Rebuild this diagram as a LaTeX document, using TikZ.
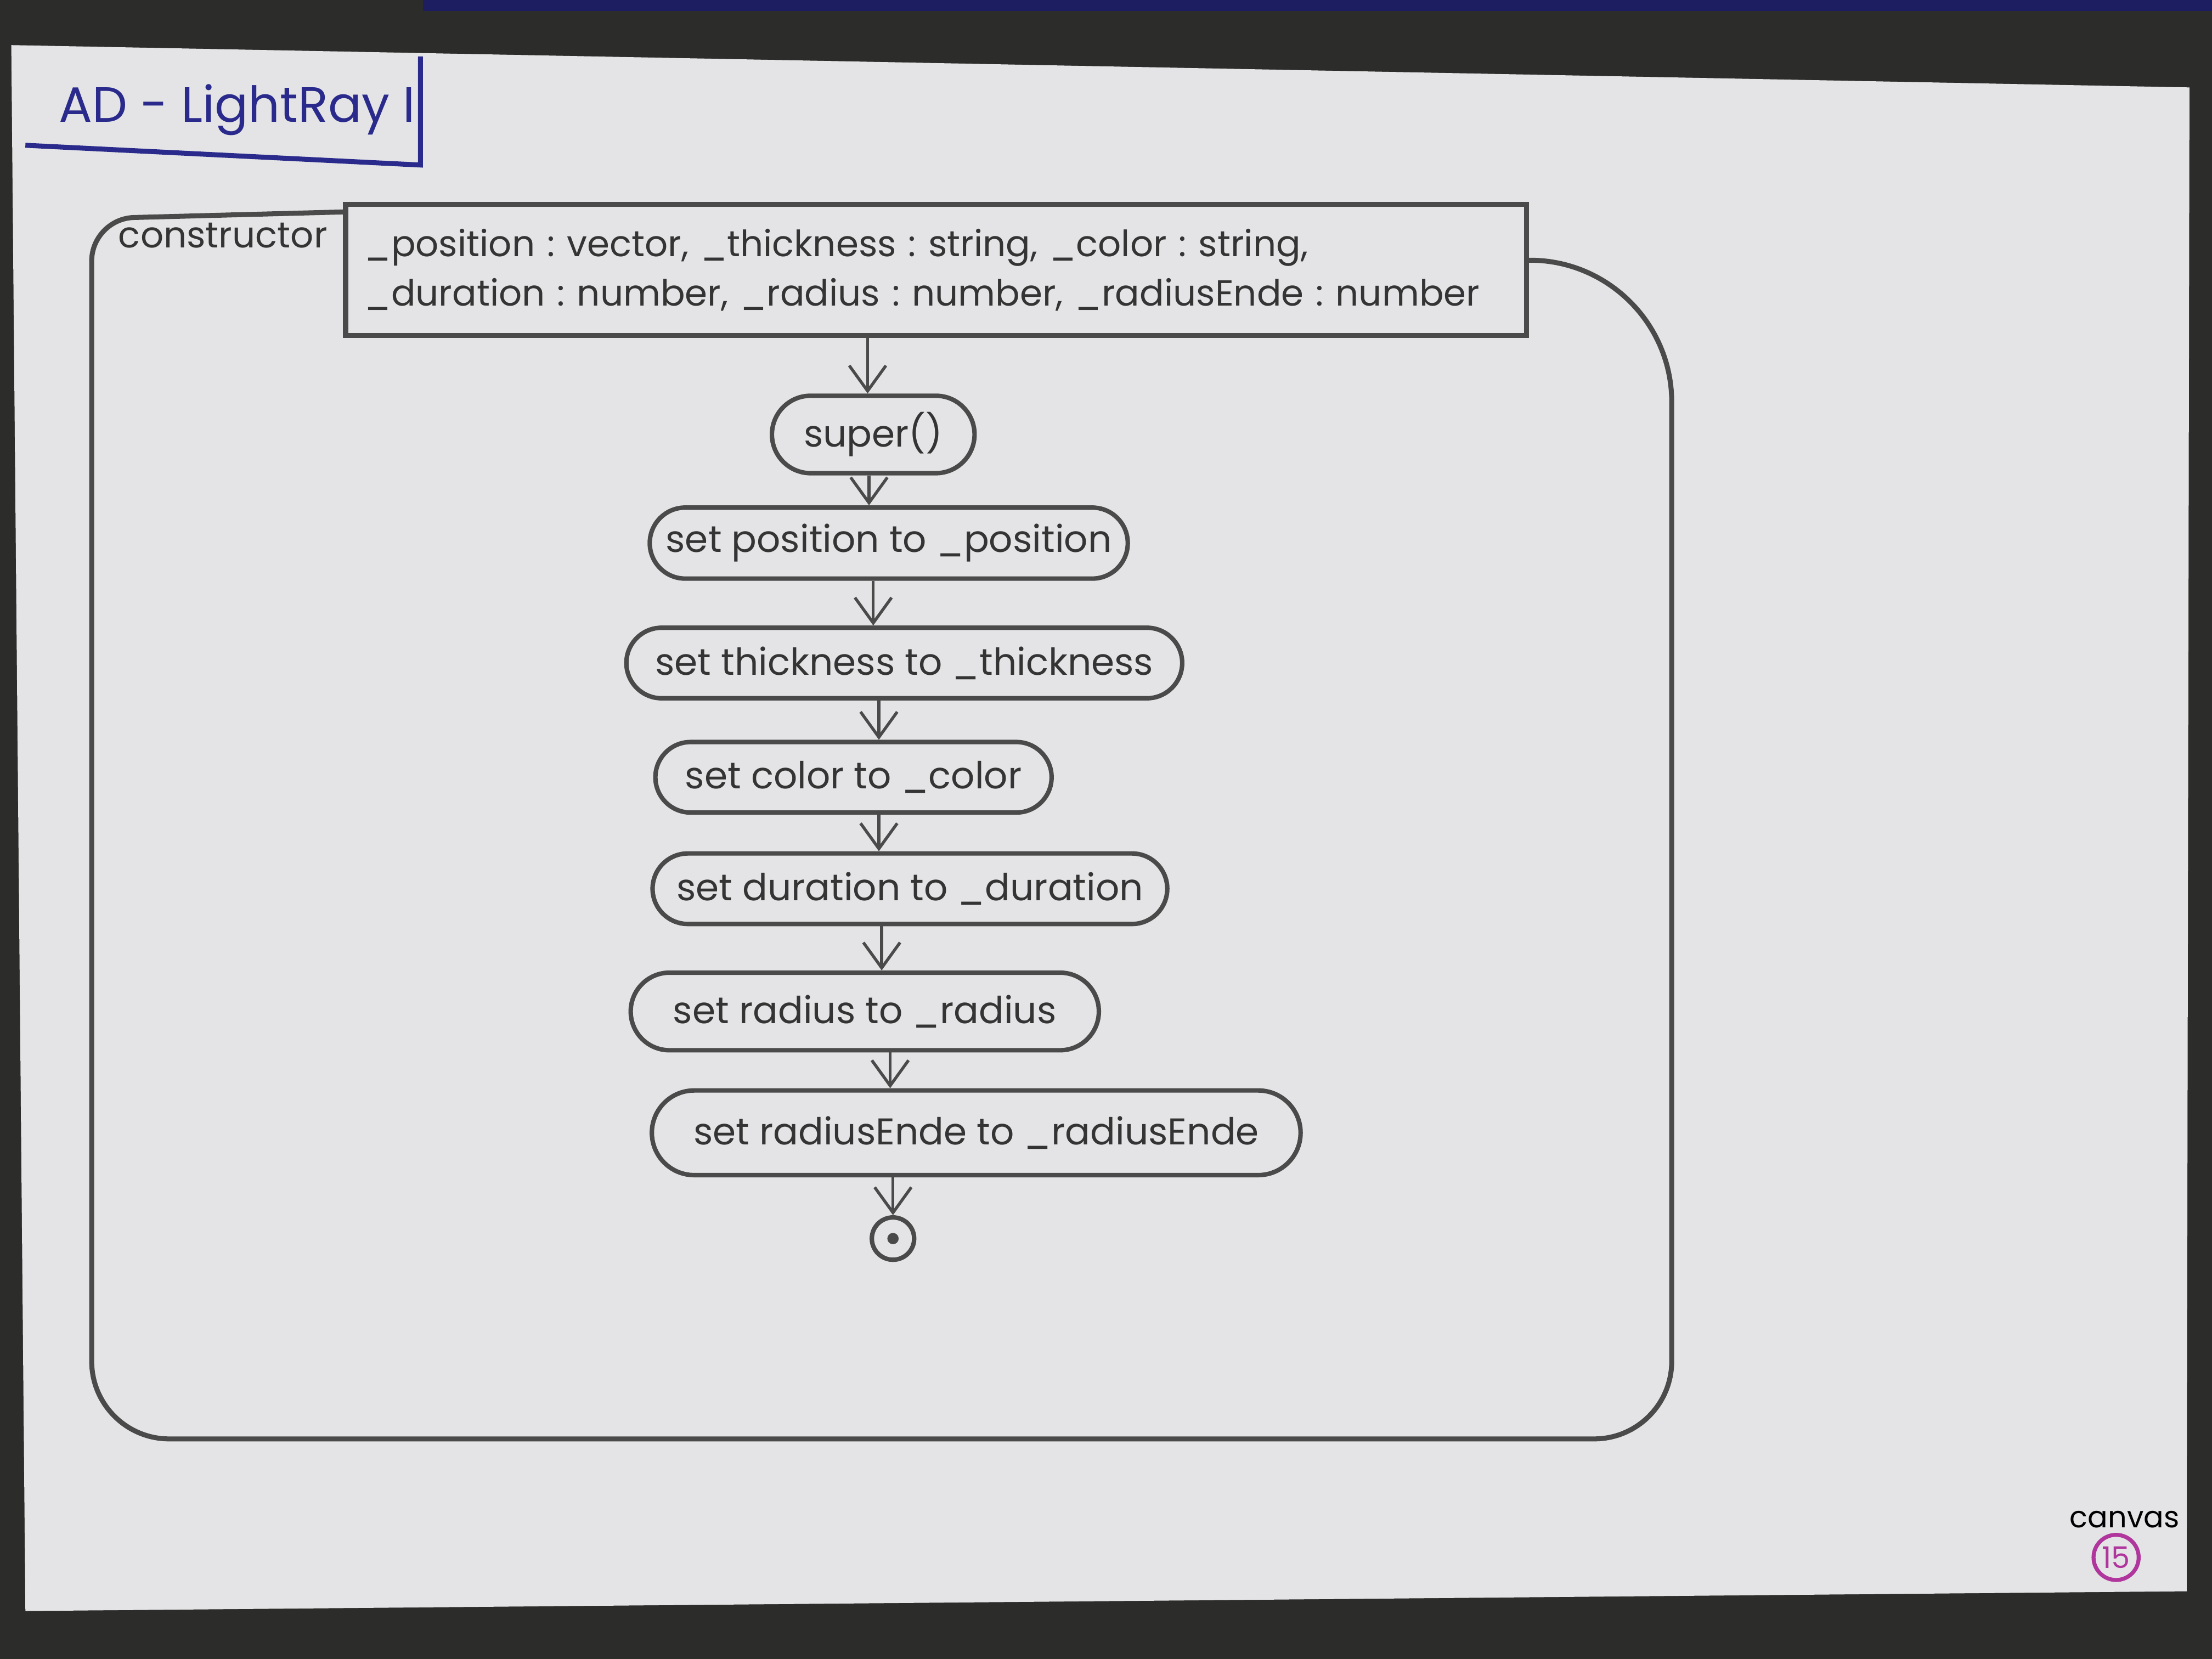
\documentclass[tikz,border=0pt]{standalone}
\usepackage{fontspec}
\setmainfont{Poppins}
\usetikzlibrary{arrows.meta,shapes.misc}
\frenchspacing

\definecolor{pencil}{HTML}{4A4A4A}
\definecolor{paper}{HTML}{E4E4E6}
\definecolor{desk}{HTML}{2C2C2A}
\definecolor{ink}{HTML}{2A2A8C}
\definecolor{marker}{HTML}{B0359C}

\begin{document}
\begin{tikzpicture}[
    action/.style={draw=pencil, line width=0.9pt, rounded rectangle, minimum height=0.5cm, inner xsep=5pt, font=\fontsize{7.5}{9}\selectfont, text=pencil!70!black},
    flow/.style={draw=pencil, line width=0.6pt, -{Straight Barb[length=1.8mm,width=2.6mm]}},
    region/.style={draw=pencil, line width=1pt},
    note/.style={font=\fontsize{7.3}{9}\selectfont, text=pencil!70!black}
]
    % Photo background and sheet
    \fill[desk] (0,0) rectangle (15.68,11.76);
    \fill[ink!70!black] (3,11.76) rectangle (15.68,11.68);
    \fill[paper] (0.08,11.44) -- (15.52,11.14) -- (15.5,0.48) -- (0.18,0.34) -- cycle;

    % Title
    \node[font=\fontsize{10}{12}\selectfont, text=ink] (title) at (1.68,10.98) {AD - LightRay I};
    \draw[ink, line width=1pt] (0.18,10.73) -- (2.98,10.59) -- (2.98,11.36);

    % Constructor region
    \node[draw=pencil, line width=1pt, minimum width=8.37cm, minimum height=0.93cm,
          text width=8.1cm, align=left, note] (params) at (6.635,9.845)
          {\hyphenpenalty=10000 \_position : vector, \_thickness : string, \_color : string,\\[1pt]
           \_duration : number, \_radius : number, \_radiusEnde : number};
    \node[note] (ctor) at (1.58,10.09) {constructor};
    \draw[region] ([yshift=-2pt]params.north west) [rounded corners=3mm] -- (0.65,10.21)
        [rounded corners=5.5mm] -- (0.65,1.56) -- (11.85,1.56)
        [rounded corners=1cm] -- (11.85,9.91) -- ([yshift=2pt]params.east);

    % Actions
    \node[action] (super) at (6.19,8.68) {super()};
    \node[action, minimum width=3.74cm] (pos) at (6.30,7.91) {set position to \_position};
    \node[action, minimum width=3.88cm] (thick) at (6.41,7.06) {set thickness to \_thickness};
    \node[action, minimum width=3.16cm] (color) at (6.05,6.25) {set color to \_color};
    \node[action, minimum width=4.0cm] (dur) at (6.45,5.46) {set duration to \_duration};
    \node[action, minimum width=3.67cm, minimum height=0.55cm] (rad) at (6.13,4.59) {set radius to \_radius};
    \node[action, minimum width=4.95cm, minimum height=0.6cm] (radE) at (6.92,3.73) {set radiusEnde to \_radiusEnde};
    \node[circle, draw=pencil, line width=0.9pt, minimum size=0.3cm, inner sep=0] (final) at (6.33,2.98) {};
    \node[circle, fill=pencil, minimum size=0.08cm, inner sep=0] (finaldot) at (final) {};

    % Control flow
    \foreach \a/\b/\x in {params/super/6.15, super/pos/6.16, pos/thick/6.19, thick/color/6.23,
                          color/dur/6.23, dur/rad/6.25, rad/radE/6.31, radE/final/6.33} {
        \draw[flow] (\a.south -| \x,0) -- (\b.north -| \x,0);
    }

    % Page mark
    \node[font=\fontsize{6}{7}\selectfont] (canvas) at (15.06,0.99) {canvas};
    \node[circle, draw=marker, line width=0.8pt, text=marker, minimum size=0.32cm, inner sep=0,
          font=\fontsize{6}{7}\selectfont] (page) at (15.0,0.72) {15};
\end{tikzpicture}
\end{document}
